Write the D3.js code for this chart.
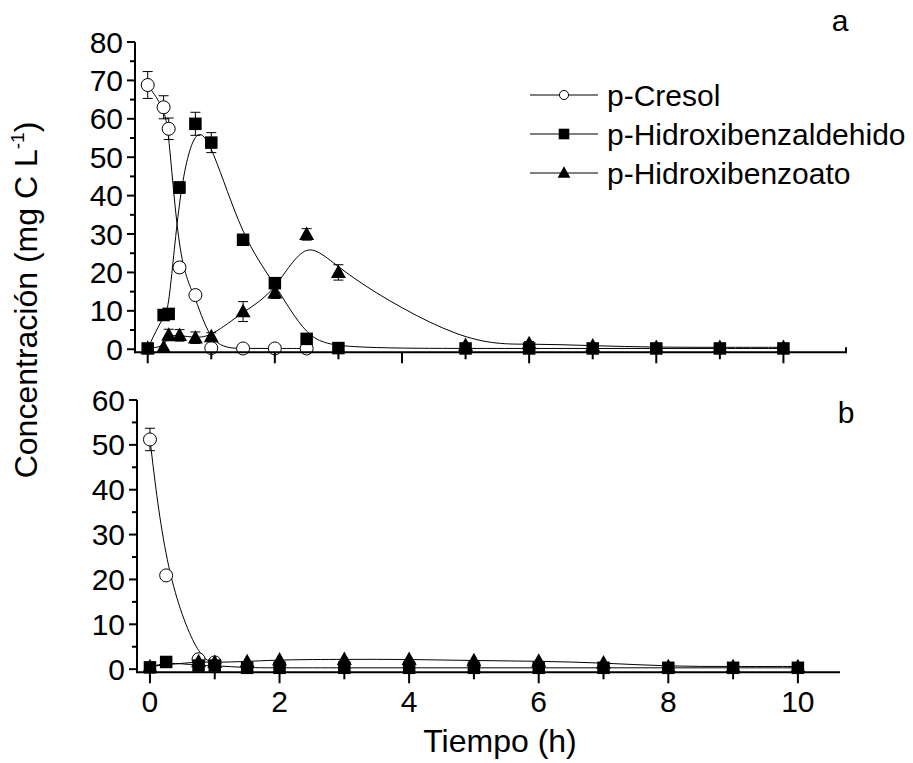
<!DOCTYPE html>
<html><head><meta charset="utf-8">
<script src="https://cdn.jsdelivr.net/npm/d3@7"></script>
<style>body{margin:0;background:#fff}svg{font-family:"Liberation Sans",Arial,sans-serif}</style>
</head><body>
<svg id="c" width="913" height="763"></svg>
<script>
// ---- data (top panel "a") ----
const aCresolT = [0, 0.25, 0.33, 0.5, 0.75, 1, 1.5, 2, 2.5];
const aCresolV = [68.8, 63.0, 57.4, 21.3, 14.1, 0.3, 0.2, 0.2, 0.2];
const aCresolE = [3.5, 3.0, 2.8, 1.0, 1.0, 0, 0, 0, 0];
const aAldT = [0, 0.25, 0.33, 0.5, 0.75, 1, 1.5, 2, 2.5, 3, 5, 6, 7, 8, 9, 10];
const aAldV = [0.2, 8.9, 9.2, 42.1, 58.7, 53.8, 28.5, 17.2, 2.7, 0.3, 0.2, 0.2, 0.2, 0.2, 0.2, 0.2];
const aAldE = [0, 0.5, 0.5, 1.5, 3.0, 2.6, 0.8, 1.0, 0.5, 0, 0, 0, 0, 0, 0, 0];
const aAcidT = [0, 0.25, 0.33, 0.5, 0.75, 1, 1.5, 2, 2.5, 3, 5, 6, 7, 8, 9, 10];
const aAcidV = [0.3, 0.5, 3.7, 3.6, 3.0, 3.3, 9.8, 14.7, 29.9, 20.0, 1.0, 1.5, 0.9, 0.5, 0.5, 0.5];
const aAcidE = [0, 0, 1.5, 1.5, 1.5, 1.0, 2.6, 1.5, 1.5, 2.0, 0.5, 0.5, 0.5, 0, 0, 0];
// ---- data (bottom panel "b") ----
const bCresolT = [0, 0.25, 0.75, 1];
const bCresolV = [51.2, 20.9, 2.2, 1.5];
const bCresolE = [2.5, 0.7, 0.5, 0];
const bAldT = [0, 0.25, 0.75, 1, 1.5, 2, 3, 4, 5, 6, 7, 8, 9, 10];
const bAldV = [0.4, 1.6, 0.8, 0.8, 0.3, 0.3, 0.3, 0.3, 0.3, 0.3, 0.3, 0.3, 0.3, 0.3];
const bAcidT = [0, 0.75, 1, 1.5, 2, 3, 4, 5, 6, 7, 8, 9, 10];
const bAcidV = [0.6, 1.7, 1.5, 1.7, 2.1, 2.2, 2.2, 1.9, 1.8, 1.4, 0.6, 0.6, 0.6];
// ---- axis ticks / labels ----
const xTicksLabelled = [0, 2, 4, 6, 8, 10];
const xTicksMinor = [1, 3, 5, 7, 9];
const aYTicks = [0, 10, 20, 30, 40, 50, 60, 70, 80];
const bYTicks = [0, 10, 20, 30, 40, 50, 60];
const seriesNames = ["p-Cresol", "p-Hidroxibenzaldehido", "p-Hidroxibenzoato"];
const panelLabels = ["a", "b"];
const xTitle = "Tiempo (h)";

const svg = d3.select("#c");
const FS = 30;

function panel(cfg) {
  const x = d3.scaleLinear().domain(cfg.xd).range(cfg.xr);
  const y = d3.scaleLinear().domain(cfg.yd).range(cfg.yr);
  const g = svg.append("g");
  const x0 = cfg.xr[0], y0 = cfg.yr[0];
  const line = d3.line().curve(d3.curveBasis).x(d => x(d[0])).y(d => y(d[1]));
  cfg.series.forEach(s => {
    const pts = s.t.map((t, i) => [t, s.v[i]]);
    g.append("path").attr("d", line(pts)).attr("fill", "none").attr("stroke", "#000").attr("stroke-width", 1);
  });
  cfg.series.forEach(s => {
    s.t.forEach((t, i) => {
      const e = s.e ? s.e[i] : 0;
      if (e > 0) {
        const cx = x(t);
        g.append("line").attr("x1", cx).attr("x2", cx).attr("y1", y(s.v[i] - e)).attr("y2", y(s.v[i] + e)).attr("stroke", "#000");
        [s.v[i] - e, s.v[i] + e].forEach(v => g.append("line").attr("x1", cx - 5).attr("x2", cx + 5).attr("y1", y(v)).attr("y2", y(v)).attr("stroke", "#000"));
      }
    });
  });
  cfg.series.forEach(s => {
    s.t.forEach((t, i) => marker(g, s.m, x(t), y(s.v[i]), 1));
  });
  g.append("line").attr("x1", x0).attr("x2", cfg.xr[1]).attr("y1", y0).attr("y2", y0).attr("stroke", "#000").attr("stroke-width", 2);
  g.append("line").attr("x1", x0).attr("x2", x0).attr("y1", y0 + 1).attr("y2", cfg.yr[1]).attr("stroke", "#000").attr("stroke-width", 2);
  if (cfg.cap) g.append("line").attr("x1", cfg.xr[1] - 1).attr("x2", cfg.xr[1] - 1).attr("y1", y0).attr("y2", y0 - 5).attr("stroke", "#000").attr("stroke-width", 2);
  xTicksLabelled.forEach(t => {
    g.append("line").attr("x1", x(t)).attr("x2", x(t)).attr("y1", y0).attr("y2", y0 + 11).attr("stroke", "#000").attr("stroke-width", 2);
    if (cfg.xlabels) g.append("text").attr("x", x(t)).attr("y", y0 + 40).attr("text-anchor", "middle").attr("font-size", FS).text(t);
  });
  xTicksMinor.forEach(t => g.append("line").attr("x1", x(t)).attr("x2", x(t)).attr("y1", y0).attr("y2", y0 + 7).attr("stroke", "#000").attr("stroke-width", 2));
  cfg.yt.forEach((v, i) => {
    g.append("line").attr("x1", x0).attr("x2", x0 - 8).attr("y1", y(v)).attr("y2", y(v)).attr("stroke", "#000").attr("stroke-width", 2);
    g.append("text").attr("x", x0 - 12).attr("y", y(v) + 10.5).attr("text-anchor", "end").attr("font-size", FS).text(v);
    if (i < cfg.yt.length - 1) {
      const m = v + 5;
      g.append("line").attr("x1", x0).attr("x2", x0 - 5).attr("y1", y(m)).attr("y2", y(m)).attr("stroke", "#000").attr("stroke-width", 2);
    }
  });
  g.append("text").attr("x", cfg.lab[0]).attr("y", cfg.lab[1]).attr("text-anchor", "middle").attr("font-size", FS).text(cfg.label);
  return {x, y};
}

function marker(g, m, cx, cy, k) {
  if (m === "circle") {
    g.append("circle").attr("cx", cx).attr("cy", cy).attr("r", 6.5 * k).attr("fill", "#fff").attr("stroke", "#000").attr("stroke-width", 1);
  } else if (m === "square") {
    const s = 12.5 * k;
    g.append("rect").attr("x", cx - s / 2).attr("y", cy - s / 2).attr("width", s).attr("height", s).attr("fill", "#000");
  } else {
    const h = 13.5 * k, w = 15 * k;
    g.append("path").attr("d", `M${cx},${cy - h * 0.58}L${cx + w / 2},${cy + h * 0.42}L${cx - w / 2},${cy + h * 0.42}Z`).attr("fill", "#000");
  }
}

panel({
  xd: [-0.2, 11], xr: [135, 847], yd: [-0.8, 80], yr: [352.3, 42],
  yt: aYTicks, xlabels: false, cap: true, label: panelLabels[0], lab: [840, 31],
  series: [
    {t: aCresolT, v: aCresolV, e: aCresolE, m: "circle"},
    {t: aAldT, v: aAldV, e: aAldE, m: "square"},
    {t: aAcidT, v: aAcidV, e: aAcidE, m: "triangle"}
  ]
});
panel({
  xd: [-0.2, 10.65], xr: [137, 840], yd: [-0.7, 60], yr: [672.3, 400],
  yt: bYTicks, xlabels: true, cap: false, label: panelLabels[1], lab: [846, 423],
  series: [
    {t: bCresolT, v: bCresolV, e: bCresolE, m: "circle"},
    {t: bAldT, v: bAldV, m: "square"},
    {t: bAcidT, v: bAcidV, m: "triangle"}
  ]
});

// legend
const legRows = [95, 134, 173];
const legM = ["circle", "square", "triangle"];
const lg = svg.append("g");
seriesNames.forEach((n, i) => {
  lg.append("line").attr("x1", 530).attr("x2", 598).attr("y1", legRows[i]).attr("y2", legRows[i]).attr("stroke", "#000");
  marker(lg, legM[i], 564, legRows[i], i === 0 ? 0.7 : 0.85);
  lg.append("text").attr("x", 607).attr("y", legRows[i] + 10.5).attr("font-size", FS).text(n);
});

// axis titles
svg.append("text").attr("x", 500).attr("y", 752).attr("text-anchor", "middle").attr("font-size", 32).text(xTitle);
const yt = svg.append("text").attr("transform", "translate(37,300) rotate(-90)").attr("text-anchor", "middle").attr("font-size", 32);
yt.append("tspan").text("Concentración (mg C L");
yt.append("tspan").attr("font-size", 19).attr("dy", -13).text("-1");
yt.append("tspan").attr("dy", 13).text(")");
</script>
</body></html>
